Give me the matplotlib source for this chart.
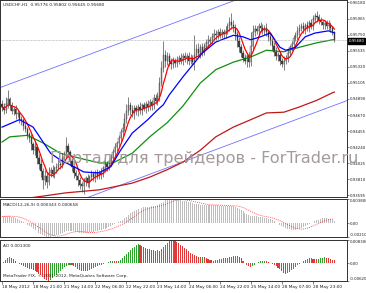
import numpy as np
import pandas as pd
import matplotlib
matplotlib.use("Agg")
from matplotlib import pyplot as plt

#==============================================================================
#                                Data
#==============================================================================

# USDCHF H1 closes, in pips (1e-4)
close = [9478, 9474, 9482, 9488, 9480, 9472, 9475, 9468, 9470, 9462,
         9460, 9452, 9448, 9441, 9436, 9428, 9420, 9424, 9410, 9402,
         9392, 9380, 9386, 9378, 9390, 9394, 9388, 9396, 9398, 9402,
         9400, 9410, 9414, 9426, 9418, 9405, 9398, 9390, 9385, 9380,
         9374, 9372, 9378, 9382, 9376, 9384, 9388, 9384, 9390, 9386,
         9390, 9388, 9396, 9402, 9398, 9405, 9410, 9418, 9424, 9430,
         9436, 9444, 9450, 9462, 9472, 9480, 9474, 9470, 9476, 9472,
         9478, 9474, 9480, 9476, 9482, 9478, 9484, 9480, 9490, 9486,
         9492, 9510, 9530, 9548, 9540, 9546, 9538, 9536, 9540, 9537,
         9541, 9544, 9540, 9546, 9543, 9546, 9540, 9544, 9538, 9548,
         9556, 9550, 9558, 9552, 9560, 9564, 9568, 9566, 9572, 9576,
         9574, 9578, 9575, 9578, 9576, 9580, 9586, 9592, 9588, 9584,
         9576, 9566, 9558, 9550, 9544, 9540, 9546, 9538, 9560, 9578,
         9582, 9580, 9586, 9584, 9580, 9584, 9578, 9572, 9566, 9560,
         9552, 9546, 9548, 9540, 9536, 9540, 9544, 9550, 9558, 9562,
         9570, 9574, 9580, 9584, 9586, 9582, 9588, 9584, 9590, 9586,
         9596, 9600, 9598, 9594, 9592, 9588, 9590, 9586, 9588, 9584,
         9578, 9568]
first_open = 9482
upper_wick = [6, 5, 9, 13, 4, 5, 3, 6, 4, 3,
              4, 3, 5, 3, 4, 6, 3, 8, 4, 5,
              6, 4, 7, 5, 8, 4, 6, 3, 5, 6,
              4, 6, 5, 12, 4, 3, 5, 4, 3, 5,
              4, 3, 5, 4, 6, 3, 5, 4, 3, 5,
              4, 6, 3, 5, 4, 3, 5, 4, 6, 3,
              5, 4, 6, 8, 10, 12, 5, 6, 4, 5,
              4, 6, 3, 5, 4, 6, 5, 4, 6, 5,
              6, 8, 10, 18, 6, 5, 4, 6, 5, 4,
              5, 4, 6, 4, 5, 4, 6, 5, 4, 26,
              6, 8, 5, 6, 4, 5, 6, 4, 5, 6,
              5, 4, 6, 5, 4, 6, 5, 7, 12, 6,
              5, 4, 6, 5, 4, 5, 3, 6, 18, 10,
              6, 5, 4, 6, 5, 4, 6, 3, 5, 4,
              5, 6, 4, 5, 3, 6, 4, 5, 3, 4,
              5, 4, 6, 5, 4, 6, 3, 5, 4, 6,
              5, 4, 6, 5, 4, 3, 5, 4, 6, 4,
              3, 2]
lower_wick = [5, 6, 4, 5, 6, 4, 5, 6, 4, 5,
              6, 5, 4, 6, 5, 7, 5, 6, 8, 7,
              8, 12, 6, 8, 5, 6, 4, 5, 6, 4,
              5, 4, 6, 5, 7, 5, 6, 7, 5, 8,
              6, 8, 10, 6, 5, 6, 4, 5, 6, 4,
              5, 6, 4, 5, 6, 4, 5, 4, 6, 5,
              4, 6, 5, 4, 6, 5, 7, 6, 8, 5,
              6, 5, 7, 4, 6, 5, 4, 6, 5, 4,
              5, 6, 4, 5, 8, 6, 5, 7, 6, 5,
              6, 5, 4, 6, 5, 7, 6, 5, 4, 10,
              6, 5, 7, 6, 5, 4, 6, 5, 4, 5,
              6, 5, 4, 5, 6, 5, 4, 6, 5, 6,
              8, 7, 6, 5, 6, 5, 8, 6, 5, 6,
              5, 4, 6, 5, 4, 6, 5, 6, 5, 6,
              6, 5, 7, 6, 5, 8, 5, 6, 4, 5,
              5, 4, 6, 5, 4, 5, 6, 4, 5, 4,
              5, 4, 6, 5, 4, 6, 5, 4, 5, 6,
              4, 3]

# moving averages (bar index -> pips)
blue_bar = [0, 9, 16, 25, 30, 37, 42, 47, 50, 56, 61, 67, 75, 80, 83, 86, 93,
            98, 103, 110, 119, 124, 128, 133, 138, 143, 146, 151, 156, 161, 168, 171]
blue_ma = [9451, 9461, 9451, 9416, 9407, 9398, 9391, 9390, 9390, 9398, 9420, 9443,
           9461, 9474, 9481, 9494, 9518, 9534, 9550, 9565, 9574, 9572, 9568, 9572,
           9577, 9558, 9554, 9558, 9572, 9577, 9580, 9577]
green_bar = [0, 4, 13, 21, 30, 39, 50, 57, 67, 76, 85, 93, 102, 110, 119, 128,
             136, 145, 153, 162, 170, 171]
green_ma = [9431, 9438, 9440, 9430, 9416, 9410, 9403, 9403, 9416, 9438, 9457, 9479,
            9510, 9528, 9538, 9545, 9554, 9552, 9558, 9564, 9568, 9568]
slow_bar = [14, 33, 50, 67, 76, 85, 93, 102, 110, 119, 128, 136, 145, 153, 162, 170, 171]
slow_ma = [9356, 9363, 9367, 9376, 9384, 9394, 9404, 9420, 9438, 9451, 9461, 9470,
           9471, 9478, 9487, 9497, 9498]

# channel lines (bar index -> pips)
chan_bar = [-2, 180]
chan_upper = [9503, 9679]
chan_lower = [9312, 9489]

# MACD main line (1e-5) and AO (1e-4)
macd_hist = [110, 112, 115, 118, 116, 108, 98, 86, 72, 56,
             40, 22, 4, -16, -38, -60, -82, -104, -126, -148,
             -168, -186, -200, -208, -210, -208, -202, -194, -184, -172,
             -158, -144, -130, -120, -115, -115, -118, -124, -130, -136,
             -142, -146, -148, -146, -142, -138, -134, -128, -122, -116,
             -108, -100, -90, -80, -68, -56, -42, -28, -14, 0,
             16, 34, 56, 80, 106, 132, 156, 178, 196, 212,
             226, 236, 244, 250, 254, 258, 262, 266, 270, 274,
             282, 296, 318, 340, 358, 370, 378, 380, 378, 374,
             370, 365, 360, 354, 348, 342, 336, 326, 316, 308,
             300, 296, 292, 290, 288, 287, 286, 285, 285, 284,
             282, 280, 278, 276, 275, 274, 274, 276, 276, 272,
             262, 248, 230, 210, 188, 165, 145, 130, 122, 118,
             115, 112, 108, 104, 98, 92, 84, 74, 62, 48,
             32, 15, -2, -20, -38, -55, -70, -82, -92, -98,
             -100, -98, -92, -82, -70, -56, -40, -25, -10, 5,
             20, 34, 48, 60, 70, 78, 82, 80, 74, 64,
             50, 34]
ao_vals = [2, 6, 12, 18, 22, 20, 15, 9, 3, -3,
           -7, -10, -12, -15, -18, -20, -22, -26, -30, -36,
           -42, -48, -55, -60, -62, -58, -52, -46, -40, -33,
           -25, -18, -12, -8, -6, -5, -7, -10, -14, -18,
           -22, -25, -27, -28, -26, -23, -20, -17, -14, -10,
           -7, -4, -1, 1, 3, 5, 8, 9, 8, 7,
           9, 14, 20, 27, 34, 41, 48, 54, 60, 65,
           68, 66, 62, 58, 55, 52, 50, 48, 46, 45,
           46, 45, 50, 57, 64, 72, 78, 82, 83, 80,
           76, 71, 66, 61, 56, 50, 44, 38, 33, 29,
           26, 24, 23, 24, 22, 19, 16, 13, 11, 10,
           11, 13, 15, 17, 18, 20, 21, 22, 24, 25,
           26, 27, 24, 18, 10, 3, -4, -8, -12, -9,
           -5, 0, 4, 7, 9, 10, 8, 5, 2, -1,
           -5, -10, -15, -20, -27, -33, -37, -35, -30, -24,
           -18, -12, -7, -2, 3, 7, 11, 15, 18, 19,
           17, 16, 15, 16, 18, 20, 22, 21, 19, 16,
           14, 13]

price_ticks = ["0.96180", "0.95965", "0.95750", "0.95535", "0.95320", "0.95105",
               "0.94890", "0.94670", "0.94455", "0.94240", "0.94025", "0.93810", "0.93595"]
date_bars = [0, 16, 32, 48, 64, 80, 96, 112, 128, 144, 160]
date_labels = ["18 May 2012", "18 May 21:00", "21 May 14:00", "22 May 06:00",
               "22 May 22:00", "23 May 14:00", "24 May 06:00", "24 May 22:00",
               "25 May 14:00", "28 May 07:00", "28 May 23:00"]

#==============================================================================
#                              Prepare
#==============================================================================

W, H = 366, 293
n = len(close)
bars = np.arange(n)
c = np.array(close) / 1e4
o = np.concatenate([[first_open], close[:-1]]) / 1e4
hi = np.maximum(o, c) + np.array(upper_wick) / 1e4
lo = np.minimum(o, c) - np.array(lower_wick) / 1e4
fast_ma = pd.Series(c).rolling(6, min_periods=1).mean()
macd = np.array(macd_hist) / 1e5
signal = pd.Series(macd).rolling(9, min_periods=1).mean()
ao = np.array(ao_vals) / 1e4
ao_up = np.concatenate([[False], np.diff(ao) > 0])

def box(l, t, r, b):
    return [l / W, 1 - b / H, (r - l) / W, (b - t) / H]

def pos(x, y):
    return x / W, 1 - y / H

fs = 3.1
yfs = 2.8
xlim = (-1.03, 177.5)

fig = plt.figure(figsize=(W / 100, H / 100), dpi=100)
ax = fig.add_axes(box(0, 0, 347, 197))
ax2 = fig.add_axes(box(0, 199, 347, 237))
ax3 = fig.add_axes(box(0, 240, 347, 281))

for a in (ax, ax2, ax3):
    a.set_xlim(*xlim)
    for s in a.spines.values():
        s.set_color("#303030")
        s.set_linewidth(0.7)
    a.yaxis.tick_right()
    a.tick_params(axis="y", length=1.5, width=0.4, pad=0.8, labelsize=yfs, colors="#202020")
    a.tick_params(axis="x", bottom=False, labelbottom=False)

#==============================================================================
#                              Main chart
#==============================================================================

ax.plot(chan_bar, np.array(chan_upper) / 1e4, color="#7070ff", lw=0.6)
ax.plot(chan_bar, np.array(chan_lower) / 1e4, color="#7070ff", lw=0.6)
ax.plot(slow_bar, np.array(slow_ma) / 1e4, color="#c01818", lw=0.9)
ax.plot(green_bar, np.array(green_ma) / 1e4, color="#109010", lw=0.9)
ax.vlines(bars, lo, hi, color="#3a3a3a", lw=0.45)
bull = c >= o
ax.bar(bars, np.abs(c - o) + 0.00002, bottom=np.minimum(o, c), width=0.65,
       color=np.where(bull, "white", "#404040"), edgecolor="#303030", linewidth=0.25)
ax.plot(bars, fast_ma, color="#ff0000", lw=0.9)
ax.plot(blue_bar, np.array(blue_ma) / 1e4, color="#0000ff", lw=0.9)
ax.axhline(c[-1], color="#a0a0a0", ls=(0, (1, 1)), lw=0.5)
ax.set_ylim(0.93574, 0.96213)
ax.set_yticks([float(t) for t in price_ticks])
ax.set_yticklabels(price_ticks)

fig.text(*pos(3, 5), "USDCHF,H1  0.95776 0.95802 0.95645 0.95680", fontsize=fs,
         va="center", color="#202020")
fig.text(*pos(348.5, 41), "%.5f" % c[-1], fontsize=yfs, va="center", color="white",
         bbox=dict(boxstyle="square,pad=0.2", fc="black", ec="black"))
fig.text(*pos(50, 158), "Портал для трейдеров - ForTrader.ru", fontsize=11.6,
         va="center", ha="left", color="#a59a9a")

#==============================================================================
#                                 MACD
#==============================================================================

ax2.bar(bars, macd, width=0.5, color="#bdbdbd")
ax2.plot(bars, signal, color="#ff2020", lw=0.6, ls=(0, (1, 1.5)))
m_lo, m_hi = min(macd.min(), signal.min()), max(macd.max(), signal.max())
ax2.set_ylim(m_lo, m_hi)
ax2.set_yticks([m_hi, 0, m_lo])
ax2.set_yticklabels(["%.6f" % m_hi, "0.00", "%.5f" % m_lo])
labs = ax2.get_yticklabels()
labs[0].set_va("top")
labs[2].set_va("bottom")
fig.text(*pos(3, 205), "MACD(12,26,9) %.6f %.6f" % (0.000343, signal.iloc[-1]),
         fontsize=fs, va="center", color="#202020")

#==============================================================================
#                                  AO
#==============================================================================

ax3.bar(bars, ao, width=0.55, color=np.where(ao_up, "#2ea02e", "#e03838"))
a_lo, a_hi = ao.min(), ao.max()
ax3.set_ylim(a_lo, a_hi)
ax3.set_yticks([a_hi, 0, a_lo])
ax3.set_yticklabels(["%.6f" % a_hi, "0.00", "%.5f" % a_lo])
labs = ax3.get_yticklabels()
labs[0].set_va("top")
labs[2].set_va("bottom")
fig.text(*pos(3, 246), "AO %.6f" % ao[-1], fontsize=fs, va="center", color="#202020")
fig.text(*pos(3, 276), "MetaTrader FIX, © 2001-2012, MetaQuotes Software Corp.",
         fontsize=fs, va="center", color="#202020")

ax3.set_xticks(date_bars)
ax3.set_xticklabels(date_labels, ha="left")
ax3.tick_params(axis="x", bottom=True, labelbottom=True, length=2, width=0.4,
                pad=1, labelsize=fs, colors="#202020")

fig.savefig("out.png", dpi=100)
